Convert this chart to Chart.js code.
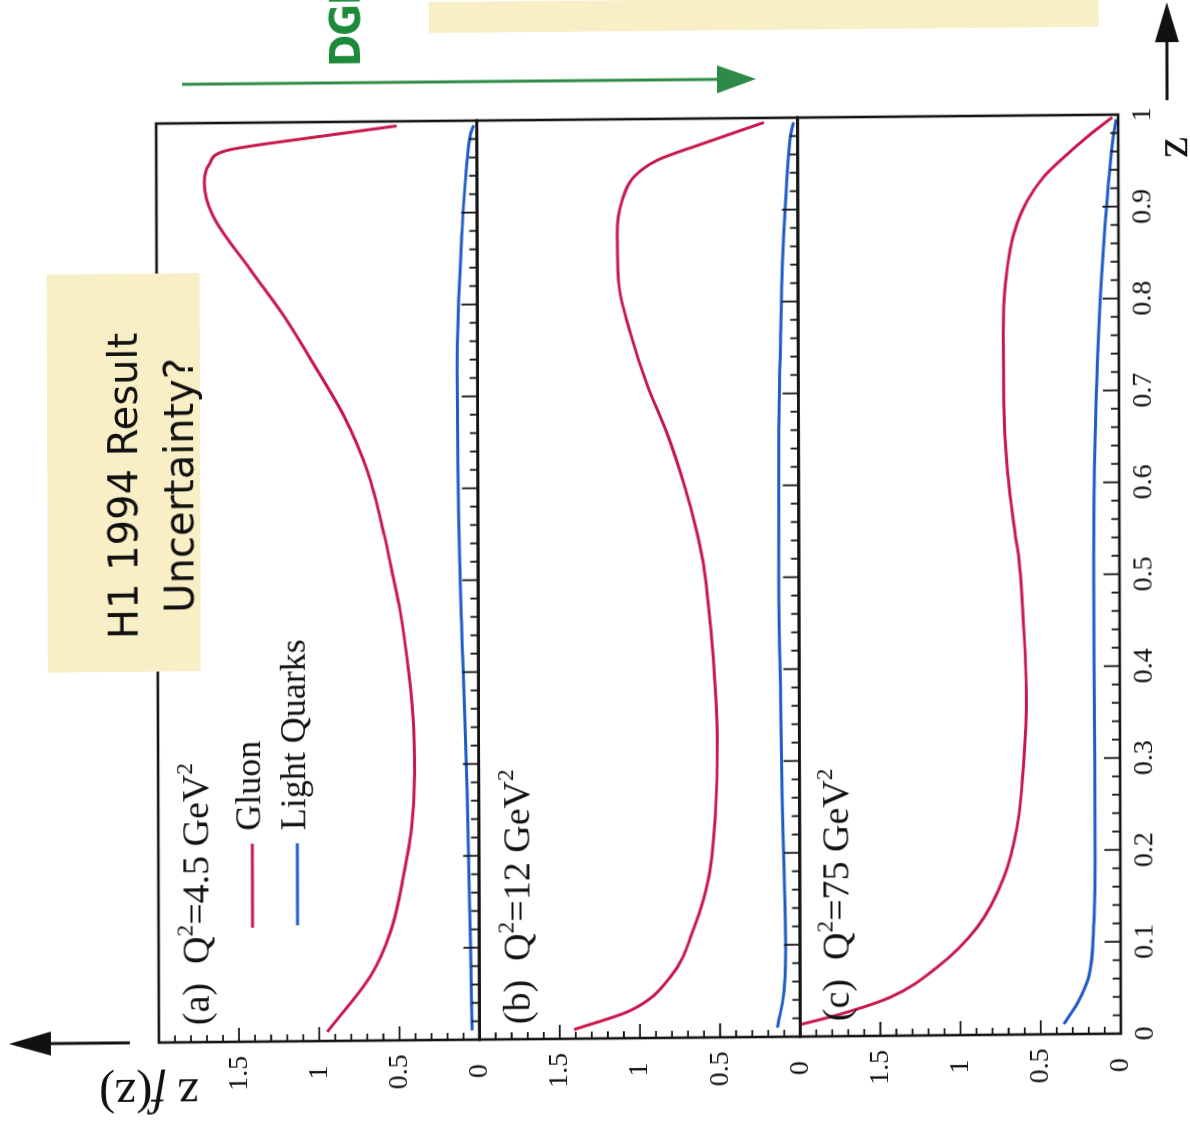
<!DOCTYPE html>
<html>
<head>
<meta charset="utf-8">
<title>Fragmentation functions z f(z)</title>
<script src="https://cdn.jsdelivr.net/npm/chart.js@4.4.1/dist/chart.umd.min.js"></script>
<style>
  html, body { margin: 0; padding: 0; background: #fff; width: 1190px; height: 1131px; overflow: hidden; }
  /* the figure is laid out upright, then turned a quarter turn to the left (with a slight skew, like the slide) */
  #sheet { position: absolute; left: 29.5px; top: -29.5px; width: 1131px; height: 1190px;
           transform-origin: 50% 50%; transform: matrix(-0.003, -1, 1, -0.0093, 0, 0); }
  #sheet canvas, #sheet svg { position: absolute; left: 0; top: 0; }
  .note { position: absolute; white-space: nowrap; color: #111; line-height: 1; }
  .serif { font-family: "Liberation Serif", "Times New Roman", serif; }
  .note sup { font-size: 0.62em; position: relative; top: -0.1em; vertical-align: super; line-height: 0; }
</style>
</head>
<body>
<div id="sheet">
  <canvas id="panelA" width="1131" height="1190"></canvas>
  <canvas id="panelB" width="1131" height="1190"></canvas>
  <canvas id="panelC" width="1131" height="1190"></canvas>

  <svg width="1131" height="1190">
    <!-- note boxes -->
    <rect x="464" y="47" width="398" height="153" fill="#f9efc6"/>
    <rect x="1100" y="430" width="60" height="670" fill="#f9efc6"/>
    <!-- evolution arrow -->
    <line x1="1051" y1="183" x2="1051" y2="722" stroke="#2e8b47" stroke-width="3"/>
    <polygon points="1051,757 1037,718 1065,718" fill="#2e8b47"/>
    <!-- axis arrows -->
    <line x1="93" y1="128" x2="93" y2="45" stroke="#111" stroke-width="3"/>
    <polygon points="93,7 81,49 105,49" fill="#111"/>
    <line x1="1026" y1="1168" x2="1090" y2="1168" stroke="#111" stroke-width="3"/>
    <polygon points="1124,1168 1084,1156 1084,1180" fill="#111"/>
    <!-- legend keys -->
    <line x1="207" y1="251" x2="291" y2="251" stroke="#c8194c" stroke-width="3"/>
    <line x1="209" y1="296" x2="291" y2="296" stroke="#1f5cc6" stroke-width="3"/>
  </svg>

  <div class="note" style="left:450px; top:95px; width:400px; text-align:center; font-family:'DejaVu Sans',sans-serif; font-size:40px; line-height:56px;">H1 1994 Result<br>Uncertainty?</div>
  <div class="note" style="left:1067px; top:325px; font-family:'Liberation Sans Narrow','DejaVu Sans Condensed',sans-serif; font-weight:bold; font-size:43px; letter-spacing:-1px; color:#1d8a3a;">DGLAP evolution</div>

  <div class="note serif" style="left:110px; top:175px; font-size:38px;">(a)&ensp;Q<sup>2</sup>=4.5 GeV<sup>2</sup></div>
  <div class="note serif" style="left:108px; top:496px; font-size:38px;">(b)&ensp;Q<sup>2</sup>=12 GeV<sup>2</sup></div>
  <div class="note serif" style="left:108px; top:815px; font-size:38px;">(c)&ensp;Q<sup>2</sup>=75 GeV<sup>2</sup></div>

  <div class="note serif" style="left:304px; top:229px; font-size:36px;">Gluon</div>
  <div class="note serif" style="left:304px; top:274px; font-size:36px;">Light Quarks</div>

  <div class="note serif" style="left:40px; top:147px; font-size:48px; transform:translate(-50%,-50%) rotate(-90deg);">z <i>f</i>(z)</div>
  <div class="note serif" style="left:968px; top:1148px; font-size:48px;">z</div>
</div>

<script>
const zGluonA = [0.01, 0.07, 0.12, 0.18, 0.23, 0.29, 0.34, 0.40, 0.47, 0.50, 0.55, 0.62, 0.68, 0.73, 0.79, 0.84, 0.90, 0.935, 0.955, 0.97, 0.983, 0.995];
const gluonA  = [0.95, 0.68, 0.55, 0.47, 0.42, 0.40, 0.405, 0.435, 0.49, 0.525, 0.585, 0.69, 0.835, 1.00, 1.21, 1.415, 1.65, 1.70, 1.67, 1.56, 1.04, 0.50];
const zQuarkA = [0.01, 0.10, 0.27, 0.40, 0.52, 0.73, 0.88, 0.95, 0.985, 0.995];
const quarkA  = [0.046, 0.055, 0.073, 0.095, 0.115, 0.127, 0.094, 0.065, 0.04, 0.02];

const zGluonB = [0.01, 0.03, 0.066, 0.12, 0.175, 0.247, 0.32, 0.374, 0.447, 0.52, 0.55, 0.603, 0.657, 0.711, 0.767, 0.821, 0.876, 0.912, 0.937, 0.955, 0.973, 0.995];
const gluonB  = [1.41, 1.06, 0.81, 0.66, 0.567, 0.524, 0.512, 0.522, 0.552, 0.60, 0.635, 0.716, 0.818, 0.943, 1.046, 1.118, 1.127, 1.095, 1.022, 0.876, 0.585, 0.21];
const zQuarkB = [0.01, 0.047, 0.10, 0.19, 0.26, 0.37, 0.48, 0.66, 0.76, 0.84, 0.91, 0.98, 0.995];
const quarkB  = [0.143, 0.102, 0.09, 0.099, 0.108, 0.117, 0.125, 0.122, 0.11, 0.098, 0.076, 0.044, 0.025];

const zGluonC = [0.01, 0.014, 0.024, 0.042, 0.074, 0.117, 0.171, 0.226, 0.298, 0.371, 0.443, 0.52, 0.545, 0.617, 0.69, 0.763, 0.817, 0.871, 0.907, 0.933, 0.954, 0.979, 0.997];
const gluonC  = [2.08, 1.978, 1.749, 1.437, 1.145, 0.895, 0.727, 0.643, 0.601, 0.583, 0.598, 0.628, 0.65, 0.699, 0.719, 0.721, 0.706, 0.653, 0.569, 0.465, 0.34, 0.173, 0.037];
const zQuarkC = [0.011, 0.033, 0.062, 0.116, 0.189, 0.297, 0.407, 0.516, 0.654, 0.798, 0.907, 0.979, 0.995];
const quarkC  = [0.356, 0.272, 0.2, 0.168, 0.158, 0.158, 0.16, 0.16, 0.148, 0.115, 0.07, 0.028, 0.012];

// axis tick labels
const zTickValues  = [0, 0.1, 0.2, 0.3, 0.4, 0.5, 0.6, 0.7, 0.8, 0.9, 1];
const zTickLabels  = ["0", "0.1", "0.2", "0.3", "0.4", "0.5", "0.6", "0.7", "0.8", "0.9", "1"];
const zfTickValues = [0, 0.5, 1, 1.5];
const zfTickLabels = ["0", "0.5", "1", "1.5"];

const GLUON_COLOR = "#c8194c";
const QUARK_COLOR = "#1f5cc6";
const TICK_FONT = { family: "'Liberation Serif', 'Times New Roman', serif", size: 28 };

// ─── PANEL GEOMETRY (sheet pixels) ─────────────────────────
const SHEET_W = 1131, SHEET_H = 1190;
const AXIS_LEFT = 93, AXIS_RIGHT = 1012;
const PANEL_TOPS = [157, 477.7, 798.3];
const PANEL_H = 320.7;
const Z_AXIS_H = 45;

// frame box plus inward ticks, like the original plot style
const frameTicks = {
    id: "frameTicks",
    afterDatasetsDraw(chart) {
        const { ctx, chartArea: area, scales: { x, y } } = chart;
        ctx.save();
        ctx.strokeStyle = "#141414";
        ctx.lineWidth = 1.8;
        ctx.beginPath();
        // z: minor every 0.02, long every 0.1
        for (let k = 1; k < 50; k++) {
            const px = x.getPixelForValue(k / 50);
            const len = k % 5 === 0 ? 16 : 8;
            ctx.moveTo(px, area.bottom);
            ctx.lineTo(px, area.bottom - len);
        }
        // zf: minor every 0.1, long every 0.5
        for (let k = 1; k < 20; k++) {
            const py = y.getPixelForValue(k / 10);
            const len = k % 5 === 0 ? 14 : 7;
            ctx.moveTo(area.left, py);
            ctx.lineTo(area.left + len, py);
        }
        ctx.stroke();
        ctx.lineWidth = 2.6;
        ctx.strokeRect(area.left, area.top, area.right - area.left, area.bottom - area.top);
        ctx.restore();
    },
};

function points(zs, vals) {
    return zs.map((z, i) => ({ x: z, y: vals[i] }));
}

function makePanel(canvasId, index, gluon, quark, showZ) {
    const top = PANEL_TOPS[index];
    const bottom = SHEET_H - (top + PANEL_H) - (showZ ? Z_AXIS_H : 0);
    const line = (label, data, color) => ({
        label, data,
        borderColor: color,
        borderWidth: 3,
        pointRadius: 0,
        fill: false,
        cubicInterpolationMode: "monotone",
    });

    return new Chart(document.getElementById(canvasId), {
        type: "line",
        data: {
            datasets: [
                line("Gluon", gluon, GLUON_COLOR),
                line("Light Quarks", quark, QUARK_COLOR),
            ],
        },
        options: {
            responsive: false,
            animation: false,
            devicePixelRatio: 1,
            layout: { padding: { left: 0, right: SHEET_W - AXIS_RIGHT, top, bottom } },
            plugins: { legend: { display: false }, tooltip: { enabled: false } },
            scales: {
                x: {
                    type: "linear",
                    min: 0, max: 1,
                    display: showZ,
                    grid: { display: false, drawTicks: false },
                    border: { display: false },
                    afterBuildTicks: s => { s.ticks = zTickValues.map(v => ({ value: v })); },
                    // only the bottom panel carries the z labels
                    afterFit: s => { s.height = showZ ? Z_AXIS_H : 0; },
                    ticks: {
                        autoSkip: false, maxRotation: 0, padding: 8,
                        color: "#111", font: TICK_FONT,
                        callback: (v, i) => zTickLabels[i],
                    },
                },
                y: {
                    type: "linear",
                    min: 0, max: 2,
                    grid: { display: false, drawTicks: false },
                    border: { display: false },
                    afterBuildTicks: s => { s.ticks = zfTickValues.map(v => ({ value: v })); },
                    afterFit: s => { s.width = AXIS_LEFT; },
                    ticks: {
                        crossAlign: "center", padding: 14,
                        color: "#111", font: TICK_FONT,
                        callback: (v, i) => zfTickLabels[i],
                    },
                },
            },
        },
        plugins: [frameTicks],
    });
}

makePanel("panelA", 0, points(zGluonA, gluonA), points(zQuarkA, quarkA), false);
makePanel("panelB", 1, points(zGluonB, gluonB), points(zQuarkB, quarkB), false);
makePanel("panelC", 2, points(zGluonC, gluonC), points(zQuarkC, quarkC), true);
</script>
</body>
</html>
